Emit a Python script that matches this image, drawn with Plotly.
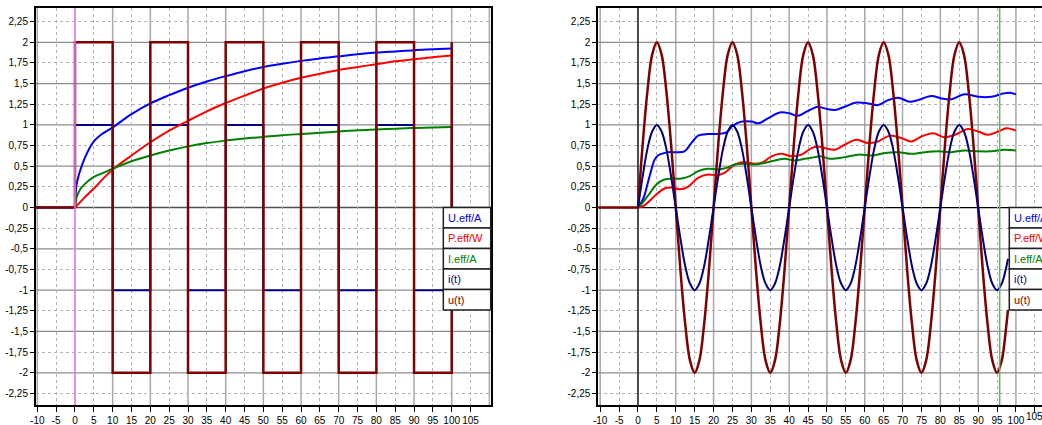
import plotly.graph_objects as go

# ---------------- data ----------------
# left panel: square wave excitation
t_left_eff = [0, 0.4, 1.25, 2.5, 5, 7.5, 10, 15, 20, 25, 30, 35, 40, 45, 50,
              55, 60, 65, 70, 75, 80, 85, 90, 95, 100]
ueff_left = [0, 0.27, 0.43, 0.59, 0.80, 0.90, 0.97, 1.13, 1.26, 1.36, 1.45, 1.525,
             1.59, 1.65, 1.70, 1.74, 1.775, 1.805, 1.83, 1.855, 1.875, 1.89, 1.905, 1.915, 1.925]
peff_left = [0, 0.02, 0.06, 0.12, 0.23, 0.35, 0.46, 0.63, 0.79, 0.93, 1.05, 1.165,
             1.265, 1.355, 1.44, 1.51, 1.57, 1.62, 1.665, 1.70, 1.735, 1.77, 1.795, 1.82, 1.84]
ieff_left = [0, 0.12, 0.21, 0.28, 0.37, 0.42, 0.47, 0.56, 0.63, 0.69, 0.74, 0.78,
             0.81, 0.835, 0.855, 0.875, 0.89, 0.905, 0.92, 0.935, 0.945, 0.955, 0.963, 0.97, 0.975]
t_left_step = [-11, 0, 10, 20, 30, 40, 50, 60, 70, 80, 90, 100]
u_left = [0, 2, -2, 2, -2, 2, -2, 2, -2, 2, -2, 2]
i_left = [0, 1, -1, 1, -1, 1, -1, 1, -1, 1, -1, 1]

# right panel: sine excitation (flat lead-in before t = 0)
t_lead = [-11, 0]
v_lead = [0, 0]
t_sine = [0, 1.25, 2.5, 3.75, 5, 6.25, 7.5, 8.75, 10, 11.25, 12.5, 13.75, 15, 16.25,
          17.5, 18.75, 20, 21.25, 22.5, 23.75, 25, 26.25, 27.5, 28.75, 30, 31.25, 32.5,
          33.75, 35, 36.25, 37.5, 38.75, 40, 41.25, 42.5, 43.75, 45, 46.25, 47.5, 48.75,
          50, 51.25, 52.5, 53.75, 55, 56.25, 57.5, 58.75, 60, 61.25, 62.5, 63.75, 65,
          66.25, 67.5, 68.75, 70, 71.25, 72.5, 73.75, 75, 76.25, 77.5, 78.75, 80, 81.25,
          82.5, 83.75, 85, 86.25, 87.5, 88.75, 90, 91.25, 92.5, 93.75, 95, 96.25, 97.5, 97.9]
i_right = [0, 0.38, 0.71, 0.92, 1, 0.92, 0.71, 0.38, 0, -0.38, -0.71, -0.92, -1, -0.92, -0.71, -0.38,
           0, 0.38, 0.71, 0.92, 1, 0.92, 0.71, 0.38, 0, -0.38, -0.71, -0.92, -1, -0.92, -0.71, -0.38,
           0, 0.38, 0.71, 0.92, 1, 0.92, 0.71, 0.38, 0, -0.38, -0.71, -0.92, -1, -0.92, -0.71, -0.38,
           0, 0.38, 0.71, 0.92, 1, 0.92, 0.71, 0.38, 0, -0.38, -0.71, -0.92, -1, -0.92, -0.71, -0.38,
           0, 0.38, 0.71, 0.92, 1, 0.92, 0.71, 0.38, 0, -0.38, -0.71, -0.92, -1, -0.92, -0.71, -0.62]
u_right = [0, 0.77, 1.41, 1.85, 2, 1.85, 1.41, 0.77, 0, -0.77, -1.41, -1.85, -2, -1.85, -1.41, -0.77,
           0, 0.77, 1.41, 1.85, 2, 1.85, 1.41, 0.77, 0, -0.77, -1.41, -1.85, -2, -1.85, -1.41, -0.77,
           0, 0.77, 1.41, 1.85, 2, 1.85, 1.41, 0.77, 0, -0.77, -1.41, -1.85, -2, -1.85, -1.41, -0.77,
           0, 0.77, 1.41, 1.85, 2, 1.85, 1.41, 0.77, 0, -0.77, -1.41, -1.85, -2, -1.85, -1.41, -0.77,
           0, 0.77, 1.41, 1.85, 2, 1.85, 1.41, 0.77, 0, -0.77, -1.41, -1.85, -2, -1.85, -1.41, -1.24]

t_ueff_right = [0, 1.5, 2.6, 3.5, 4.4, 5.3, 6.2, 8, 10.2, 12.3, 14.1, 15.9, 18.5, 21.2,
                23.4, 25.1, 27.3, 30, 31.9, 34.4, 37.5, 40.1, 42.3, 45, 47.6, 49.4, 52,
                54.7, 57.8, 60.9, 63.5, 66.2, 68.8, 71.9, 74.1, 77.6, 80.3, 82.9, 86.4,
                90, 93.5, 96.6, 98.4, 100]
ueff_right = [0, 0.12, 0.30, 0.45, 0.58, 0.63, 0.65, 0.67, 0.67, 0.68, 0.78, 0.87, 0.89,
              0.89, 0.91, 0.99, 1.04, 1.04, 1.02, 1.08, 1.15, 1.14, 1.11, 1.17, 1.22, 1.20,
              1.18, 1.22, 1.27, 1.26, 1.24, 1.30, 1.33, 1.28, 1.30, 1.35, 1.32, 1.31, 1.37,
              1.34, 1.34, 1.38, 1.39, 1.37]
t_peff_right = [0, 1.5, 2.6, 4.9, 7, 9.3, 11, 13.2, 15.9, 18.5, 20.7, 22.9, 25.6, 28.2,
                30.9, 33.1, 35.3, 37.9, 40.6, 43.3, 45.9, 47.6, 49.4, 52, 54.7, 57.8,
                60.9, 63.5, 66.6, 69.7, 72.3, 75, 78.1, 81.2, 83.8, 87.3, 90, 92.6, 95.3,
                97.5, 100]
peff_right = [0, 0.02, 0.06, 0.16, 0.23, 0.24, 0.22, 0.25, 0.36, 0.40, 0.39, 0.42, 0.52,
              0.55, 0.53, 0.55, 0.62, 0.65, 0.62, 0.64, 0.72, 0.74, 0.72, 0.70, 0.76, 0.82,
              0.78, 0.80, 0.87, 0.84, 0.80, 0.86, 0.90, 0.85, 0.88, 0.95, 0.92, 0.88, 0.92,
              0.96, 0.93]
t_ieff_right = [0, 0.9, 2.6, 4.9, 7, 9.3, 11.5, 13.7, 15.9, 18.5, 21.2, 23.4, 25.6, 28.2,
                30.9, 33.5, 36.2, 38.8, 41.5, 44.1, 46.8, 48.2, 50.8, 54.7, 58.2, 61.8,
                65.3, 68.8, 72.3, 75.9, 79.4, 82.9, 86.4, 90, 93.5, 97, 100]
ieff_right = [0, 0.04, 0.14, 0.28, 0.34, 0.35, 0.35, 0.38, 0.44, 0.47, 0.46, 0.48, 0.52,
              0.53, 0.52, 0.54, 0.57, 0.59, 0.57, 0.59, 0.61, 0.62, 0.59, 0.61, 0.64, 0.63,
              0.66, 0.67, 0.65, 0.67, 0.68, 0.67, 0.69, 0.68, 0.68, 0.70, 0.69]

legend_names = ["U.eff/A", "P.eff/W", "I.eff/A", "i(t)", "u(t)"]
legend_colors = ["#0000ff", "#ff0000", "#008000", "#000080", "#800000"]

x_ticks = list(range(-10, 110, 5))
x_ticktext = [str(v) for v in x_ticks]
x_minor = list(range(-5, 110, 10))
x_major = list(range(-10, 120, 10))
y_ticks = [2.25, 2, 1.75, 1.5, 1.25, 1, 0.75, 0.5, 0.25, 0, -0.25, -0.5, -0.75, -1,
           -1.25, -1.5, -1.75, -2, -2.25]
y_ticktext = ["2,25", "2", "1,75", "1,5", "1,25", "1", "0,75", "0,5", "0,25", "0",
              "-0,25", "-0,5", "-0,75", "-1", "-1,25", "-1,5", "-1,75", "-2", "-2,25"]
y_minor = [2.25, 1.75, 1.25, 0.75, 0.25, -0.25, -0.75, -1.25, -1.75, -2.25]
y_major = [-2, -1.5, -1, -0.5, 0.5, 1, 1.5, 2]
cursor_right = 95.7

# ---------------- figure ----------------
FONT = "Liberation Sans"
fig = go.Figure()

def add_panel(xa, ya, series):
    for (x, y, color, width, shape) in series:
        fig.add_trace(go.Scatter(x=x, y=y, mode="lines", xaxis=xa, yaxis=ya,
                                 line=dict(color=color, width=width, shape=shape),
                                 hoverinfo="skip", showlegend=False))

add_panel("x", "y", [
    (t_left_step, i_left, legend_colors[3], 2, "hv"),
    (t_left_eff, ueff_left, legend_colors[0], 2, "spline"),
    (t_left_eff, peff_left, legend_colors[1], 2, "spline"),
    (t_left_eff, ieff_left, legend_colors[2], 2, "spline"),
    (t_left_step, u_left, legend_colors[4], 2.5, "hv"),
])
add_panel("x2", "y2", [
    (t_ueff_right, ueff_right, legend_colors[0], 2, "spline"),
    (t_peff_right, peff_right, legend_colors[1], 2, "spline"),
    (t_ieff_right, ieff_right, legend_colors[2], 2, "spline"),
    (t_lead, v_lead, legend_colors[4], 2.5, "linear"),
    (t_sine, u_right, legend_colors[4], 2.5, "spline"),
    (t_sine, i_right, legend_colors[3], 2, "spline"),
])

YD = [20 / 425, 417 / 425]
tickfont = dict(family=FONT, size=10, color="black")
common_x = dict(tickmode="array", tickvals=x_ticks, ticktext=x_ticktext, tickangle=0,
                ticks="outside", ticklen=5, tickcolor="black", tickwidth=1,
                showline=True, linecolor="black", linewidth=2, showgrid=False,
                zeroline=False, tickfont=tickfont, fixedrange=True, automargin=False,
                minor=dict(tickmode="array", tickvals=x_minor, showgrid=True,
                           gridcolor="#b4b4b4", griddash="dot", gridwidth=1, ticks=""))
common_y = dict(tickmode="array", tickvals=y_ticks, ticktext=y_ticktext, ticks="outside",
                ticklen=4, tickcolor="black", tickwidth=1, showline=True,
                linecolor="black", linewidth=2, showgrid=False, zeroline=False,
                tickfont=tickfont, fixedrange=True, automargin=False, domain=YD,
                range=[-2.39, 2.415],
                minor=dict(tickmode="array", tickvals=y_minor, showgrid=True,
                           gridcolor="#b4b4b4", griddash="dot", gridwidth=1, ticks=""))

# right panel: last label is drawn separately because it sits on the page edge
right_ticktext = x_ticktext[:-1] + [""]

fig.update_layout(
    width=1042, height=425, margin=dict(l=0, r=0, t=0, b=0),
    paper_bgcolor="white", plot_bgcolor="white", showlegend=False,
    separators=",.",
    xaxis=dict(common_x, domain=[36 / 1042, 490.7 / 1042], range=[-10.35, 110.35],
               anchor="y", mirror=True),
    yaxis=dict(common_y, anchor="x", mirror=True),
    xaxis2=dict(common_x, domain=[598.3 / 1042, 1.0], range=[-10.5, 106.9],
                anchor="y2", mirror=True, ticktext=right_ticktext),
    yaxis2=dict(common_y, anchor="x2", mirror=False),
)

shapes = []
for xa, ya in (("x", "y"), ("x2", "y2")):
    for v in x_major:
        shapes.append(dict(type="line", xref=xa, yref=ya + " domain", x0=v, x1=v, y0=0, y1=1,
                           line=dict(color="#a8a8a8", width=1.5), layer="below"))
    for v in y_major:
        shapes.append(dict(type="line", xref=xa + " domain", yref=ya, x0=0, x1=1, y0=v, y1=v,
                           line=dict(color="#8c8c8c", width=1.2), layer="below"))
# zero lines / cursors
shapes.append(dict(type="line", xref="x domain", yref="y", x0=0, x1=1, y0=0, y1=0,
                   line=dict(color="#505050", width=1.5), layer="below"))
shapes.append(dict(type="line", xref="x2 domain", yref="y2", x0=0, x1=1, y0=0, y1=0,
                   line=dict(color="black", width=1.2), layer="below"))
shapes.append(dict(type="line", xref="x2", yref="y2 domain", x0=0, x1=0, y0=0, y1=1,
                   line=dict(color="black", width=1.2), layer="below"))
shapes.append(dict(type="line", xref="x", yref="y domain", x0=0, x1=0, y0=0, y1=1,
                   line=dict(color="#f080f8", width=1.5), layer="above"))
shapes.append(dict(type="line", xref="x2", yref="y2 domain", x0=cursor_right, x1=cursor_right,
                   y0=0, y1=1, line=dict(color="#5cb85c", width=1.5), layer="above"))

# legend boxes (drawn as table-like boxes on the plot)
row_h = 0.248
annotations = []
for xa, ya, x0, x1 in (("x", "y", 0.8958, 1.0), ("x2", "y2", 0.9263, 1.2)):
    for k, (name, col) in enumerate(zip(legend_names, legend_colors)):
        top = -k * row_h
        shapes.append(dict(type="rect", xref=xa + " domain", yref=ya, x0=x0, x1=x1,
                           y0=top - row_h, y1=top, fillcolor="white",
                           line=dict(color="#202020", width=1.5), layer="above"))
        annotations.append(dict(xref=xa + " domain", yref=ya, x=x0 + 0.006, y=top - row_h / 2,
                                text=name, showarrow=False, xanchor="left", yanchor="middle",
                                font=dict(family=FONT, size=11, color=col)))

annotations.append(dict(xref="x2", yref="paper", x=x_ticks[-1], y=9 / 425,
                        text=x_ticktext[-1], showarrow=False, xanchor="center",
                        yanchor="middle", font=tickfont))

fig.update_layout(shapes=shapes, annotations=annotations)
fig.write_html("out.html")
